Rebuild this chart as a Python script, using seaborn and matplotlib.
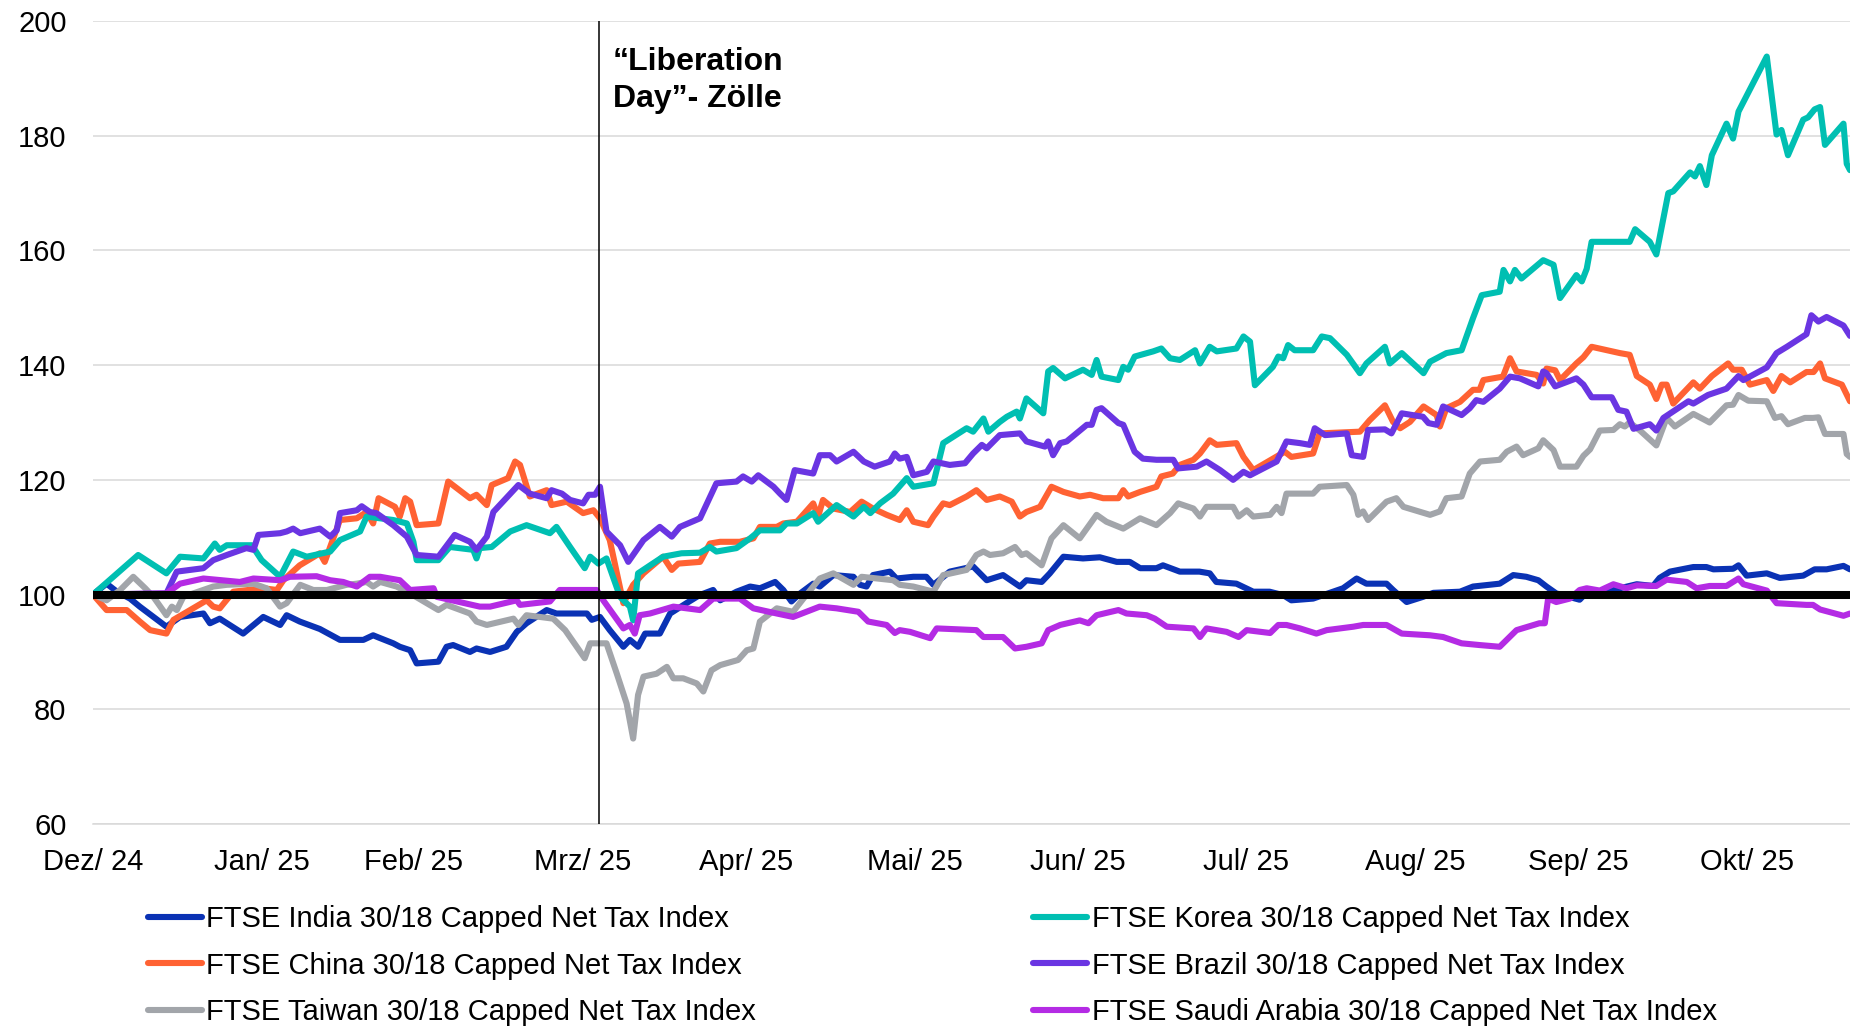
import matplotlib
matplotlib.use("Agg")
import matplotlib.pyplot as plt
import numpy as np
import pandas as pd
import seaborn as sns

# (days since 31.12.2024, index value), 31.12.2024 = 100
india = [(0, 100), (2.5, 101.9), (4.4, 100.5), (6.8, 99.3), (8.6, 97.9), (13.5, 94.4), (16, 96.1), (20.3, 96.7),
         (21.5, 95), (23.3, 95.8), (27.6, 93.2), (29.5, 94.7), (31.3, 96.1), (34.4, 94.7), (35.6, 96.4), (38, 95.3),
         (41.7, 94), (45.4, 92.1), (49.7, 92.1), (51.5, 92.9), (52.8, 92.4), (55.2, 91.5), (56.4, 90.9), (58.3, 90.3),
         (59.5, 88), (63.5, 88.3), (65, 90.9), (66.2, 91.2), (69.3, 90), (70.5, 90.6), (73, 90), (76, 90.9),
         (77.9, 93.5), (79.7, 95), (83.4, 97.3), (85.2, 96.7), (90.8, 96.7), (91.7, 95.6), (93.2, 96.1), (95, 93.8),
         (97.5, 90.9), (98.7, 92.1), (100.2, 90.9), (101.5, 93.2), (104.2, 93.2), (106.1, 96.7), (109.1, 98.5),
         (111.5, 99.9), (114, 100.8), (115.3, 99), (118.3, 100.5), (120.8, 101.4), (122.6, 101.1), (125.4, 102.2),
         (126.9, 100.8), (128.4, 98.8), (130, 100.2), (132.4, 101.9), (133.6, 101.4), (136.1, 103.4), (139.8, 103.1),
         (141, 101.7), (142.2, 101.4), (143.4, 103.4), (146.5, 104), (147.7, 102.8), (150.8, 103.1), (153.2, 103.1),
         (154.5, 101.7), (157.5, 104), (161.8, 104.9), (164.3, 102.5), (167.3, 103.4), (170.4, 101.4), (171.6, 102.5),
         (174.4, 102.2), (175.9, 103.7), (178.4, 106.6), (182, 106.3), (185.1, 106.5), (188.2, 105.7), (190.6, 105.7),
         (192.5, 104.6), (195.5, 104.6), (196.7, 105.1), (199.8, 104), (203.4, 104), (205.3, 103.7), (206.5, 102.2),
         (210.2, 101.9), (213.3, 100.5), (216.3, 100.5), (218.8, 99.9), (220.3, 99), (224.3, 99.3), (229.8, 101.1),
         (232.3, 102.8), (234.1, 101.9), (237.8, 101.9), (239, 100.8), (241.5, 98.7), (244.5, 99.6), (246.4, 100.3),
         (251.3, 100.5), (253.7, 101.4), (258.6, 101.9), (261.1, 103.4), (263.5, 103.1), (265.7, 102.5),
         (267.2, 101.4), (269, 100.2), (273.3, 99.1), (274.6, 100.4), (278.9, 100.7), (283.8, 101.8), (286.8, 101.5),
         (288, 102.9), (289.9, 104), (294.2, 104.8), (296.6, 104.8), (297.9, 104.4), (301.5, 104.5), (302.5, 105.1),
         (304, 103.3), (307.7, 103.7), (310.1, 102.9), (314.4, 103.3), (316.5, 104.4), (318.7, 104.4), (321.8, 105),
         (323, 104.4)]

korea = [(0, 100), (8.3, 106.9), (13.5, 103.7), (16, 106.6), (20.3, 106.3), (22.4, 108.9), (23.3, 107.8),
         (24.6, 108.6), (29.2, 108.6), (31, 106), (34.4, 103.1), (36.8, 107.5), (39.3, 106.6), (43.6, 107.5),
         (45.4, 109.5), (49.1, 111), (50.3, 113.6), (55.2, 113), (57.7, 112.4), (58.9, 109.2), (59.5, 106),
         (63.5, 106), (65.6, 108.3), (69.9, 107.8), (70.5, 106.3), (71.1, 108.1), (73.3, 108.3), (76.7, 111),
         (79.7, 112.1), (84, 110.7), (85.2, 111.8), (87.7, 108.3), (90.4, 104.6), (91.4, 106.6), (92.9, 105.4),
         (94.4, 106.3), (96.9, 99.6), (98.7, 97.9), (99.3, 95.5), (100.2, 103.7), (104.8, 106.6), (108.2, 107.2),
         (111.6, 107.3), (113.4, 108.3), (114.6, 107.5), (118.3, 108.1), (120.8, 109.8), (122.6, 111.2),
         (126.3, 111.2), (127.5, 112.4), (129.4, 112.4), (132.4, 114.2), (133.3, 112.7), (136.7, 115.6),
         (139.8, 113.6), (141.7, 115.3), (142.9, 114.2), (144.7, 115.9), (147.1, 117.6), (149.6, 120.3),
         (150.8, 118.8), (154.5, 119.4), (156.3, 126.4), (160.6, 129), (161.8, 128.4), (163.7, 130.7), (164.6, 128.4),
         (166.7, 130.1), (168, 131), (169.8, 131.9), (170.4, 130.7), (171.6, 134.2), (174.7, 131.6), (175.6, 138.9),
         (176.5, 139.5), (178.7, 137.7), (182, 139.2), (183.6, 138.3), (184.5, 140.9), (185.4, 138), (188.5, 137.4),
         (189.4, 139.7), (190.3, 139.2), (191.5, 141.5), (194.9, 142.4), (196.4, 142.9), (198, 141.2), (199.8, 140.9),
         (202.6, 142.6), (203.5, 140.3), (205.3, 143.2), (206.6, 142.4), (210.2, 142.9), (211.5, 145), (212.7, 144.1),
         (213.6, 136.5), (216.9, 139.7), (217.9, 141.5), (218.8, 141.2), (219.7, 143.5), (220.9, 142.6),
         (224.3, 142.6), (225.9, 145), (227.4, 144.7), (230.5, 141.8), (232.9, 138.6), (234.1, 140.3),
         (237.5, 143.2), (238.4, 140.3), (240.6, 142.1), (244.6, 138.6), (245.8, 140.6), (248.8, 142.1),
         (251.6, 142.6), (252.5, 145), (253.7, 148.2), (255.3, 152.2), (258.6, 152.8), (259.3, 156.6), (260.5, 154.6),
         (261.4, 156.6), (262.6, 155.1), (266.6, 158.3), (268.5, 157.5), (269.7, 151.7), (272.7, 155.7),
         (273.7, 154.6), (274.6, 156.8), (275.5, 161.5), (282.5, 161.5), (283.5, 163.7), (286.2, 161.5),
         (287.4, 159.3), (289.6, 170), (290.5, 170.3), (293.6, 173.6), (294.5, 172.9), (295.4, 174.7), (296.6, 171.4),
         (297.6, 176.6), (300.3, 182.1), (301.5, 179.5), (302.5, 184.2), (307.7, 193.8), (309.5, 180.2), (310.4, 181),
         (311.6, 176.6), (314.4, 182.8), (315.3, 183.2), (316.5, 184.6), (317.5, 185), (318.4, 178.4), (321.8, 182.1),
         (322.4, 175.1), (323, 174)]

china = [(0, 100), (2.5, 97.3), (6.2, 97.3), (8.6, 95.3), (10.5, 93.8), (13.5, 93.2), (14.8, 95.6), (20.9, 99),
         (22.1, 97.9), (23.3, 97.6), (25.8, 100.5), (31.3, 101.1), (33.8, 100.8), (35, 102.5), (38, 105.1),
         (41.7, 107.2), (42.6, 105.7), (43.6, 108.3), (45.4, 113), (48.5, 113.3), (50.3, 114.4), (51.5, 112.4),
         (52.5, 116.8), (55.5, 115.3), (56.4, 113.6), (57.4, 116.8), (58.3, 116.2), (59.5, 112.1), (63.5, 112.4),
         (65.3, 119.7), (69.3, 116.8), (70.5, 117.4), (72.4, 115.6), (73.3, 119.1), (76.3, 120.3), (77.6, 123.2),
         (78.5, 122.6), (80.3, 117.1), (83.4, 118.2), (84.3, 115.6), (87.1, 116.2), (90.1, 114.2), (92, 114.7),
         (93.2, 113.3), (95, 109.5), (97.5, 98.5), (99.3, 101.7), (101.2, 103.7), (104.8, 106.6), (106.4, 104.3),
         (107.6, 105.4), (111.6, 105.7), (113.4, 108.9), (115.3, 109.2), (118.9, 109.2), (121.4, 109.8),
         (122.6, 111.8), (125.7, 111.8), (126.9, 112.4), (129.4, 112.7), (132.4, 115.9), (133.3, 113.6),
         (134.2, 116.5), (136.1, 115), (139.2, 114.4), (141.3, 116.2), (143.4, 115), (145.9, 113.9), (148.3, 113),
         (149.6, 114.7), (150.8, 112.7), (153.5, 112.1), (154.5, 113.6), (156.3, 115.9), (157.5, 115.6),
         (160.6, 117.1), (162.4, 118.2), (164.3, 116.5), (166.7, 117.1), (168.9, 116.2), (170.4, 113.6),
         (171.6, 114.4), (174.1, 115.3), (176.2, 118.8), (178.4, 117.9), (181.4, 117.1), (183.3, 117.4),
         (185.7, 116.8), (188.5, 116.8), (189.4, 118.2), (190.3, 117.1), (192.5, 117.9), (195.5, 118.8),
         (196.4, 120.6), (198.5, 121.1), (199.8, 122.6), (202.3, 123.5), (203.5, 124.6), (205.3, 126.9),
         (206.6, 126.1), (210.2, 126.4), (211.5, 124), (213.3, 121.7), (216.9, 123.7), (219.1, 124.9), (220.3, 124),
         (224.3, 124.6), (225.5, 128.1), (232.9, 128.4), (234.7, 130.4), (237.5, 133), (239, 130.1), (240.3, 129),
         (242.1, 130.1), (244.6, 132.8), (247, 131.3), (247.6, 129.3), (248.8, 132.5), (251.3, 133.6),
         (253.7, 135.7), (254.9, 135.7), (255.6, 137.4), (259.2, 138), (260.5, 141.2), (261.7, 138.9),
         (265.4, 138.3), (266.6, 136.8), (267.2, 139.4), (268.8, 139.1), (269.7, 137.4), (272.7, 140.3),
         (274, 141.4), (275.5, 143.2), (280.7, 142.1), (282.5, 141.8), (283.8, 138.1), (286.2, 136.6),
         (287.4, 134.1), (288.4, 136.6), (289.3, 136.6), (290.5, 133.3), (294.2, 137), (295.4, 135.9),
         (297.6, 138.1), (300.6, 140.3), (301.5, 139.2), (303.1, 139.2), (304.6, 136.6), (307.7, 137.4),
         (308.9, 135.5), (310.4, 138.1), (312, 137), (315, 138.8), (316.3, 138.8), (317.5, 140.3), (318.4, 137.7),
         (321.5, 136.6), (323, 133.7)]

brazil = [(0, 100), (13.5, 100.2), (15.4, 104), (17.8, 104.3), (20.3, 104.6), (22.1, 106), (24.6, 106.9),
          (28.2, 108.1), (29.5, 107.8), (30.4, 110.4), (34.4, 110.7), (35.6, 111), (36.8, 111.5), (38.1, 110.7),
          (41.7, 111.5), (43.6, 110.1), (44.8, 111.2), (45.4, 114.2), (48.5, 114.7), (49.4, 115.4), (50.9, 114.4),
          (52.1, 114.2), (55.2, 112.1), (57.7, 110.1), (59.5, 106.9), (63.5, 106.6), (66.5, 110.4), (69.3, 109.2),
          (70.5, 107.8), (72.4, 110.1), (73.6, 114.4), (78.2, 119.1), (80.3, 117.6), (83.4, 116.8), (84.3, 118.2),
          (86.2, 117.6), (87.7, 116.5), (90.1, 115.9), (91.1, 117.4), (92.3, 117.4), (93.2, 118.8), (94.4, 111),
          (96.9, 108.6), (98.4, 105.7), (101.2, 109.5), (104.2, 111.8), (106.4, 110.1), (107.9, 111.8),
          (111.6, 113.3), (114.6, 119.4), (118.3, 119.7), (119.5, 120.6), (121.1, 119.7), (122.3, 120.8),
          (125.1, 118.8), (126.3, 117.6), (127.5, 116.5), (129, 121.7), (132.4, 121.1), (133.6, 124.3),
          (135.5, 124.3), (136.7, 123.2), (139.8, 124.9), (141.7, 123.2), (143.7, 122.3), (146.5, 123.2),
          (147.4, 124.6), (148.3, 123.7), (149.6, 124), (150.8, 120.8), (153.3, 121.4), (154.5, 123.2),
          (157.5, 122.6), (160.3, 122.9), (161.8, 124.6), (163.4, 126.1), (164.3, 125.5), (166.7, 127.8),
          (170.4, 128.1), (171.6, 126.7), (175, 125.8), (175.6, 126.7), (176.5, 124.3), (177.8, 126.4),
          (179, 126.7), (182.7, 129.6), (183.6, 129.6), (184.5, 132.2), (185.4, 132.5), (188.5, 129.9),
          (189.4, 129.6), (191.5, 124.9), (193, 123.7), (195.5, 123.5), (198.6, 123.5), (199.5, 122),
          (202.9, 122.3), (204.7, 123.2), (207.2, 121.7), (209.6, 120), (211.5, 121.4), (212.7, 120.8),
          (217.6, 123.2), (219.4, 126.7), (221.9, 126.4), (223.7, 126.1), (224.6, 129), (226.5, 127.8),
          (230.5, 128.1), (231.4, 124.3), (233.5, 124), (234.4, 128.7), (237.5, 128.8), (238.7, 128.1),
          (240.6, 131.6), (244.5, 131), (245.5, 129.9), (247, 129.6), (248.2, 132.8), (251.6, 131.3),
          (253.1, 132.5), (254.3, 133.9), (255.6, 133.6), (258.6, 135.9), (260.5, 138), (262.3, 137.7),
          (265.7, 136.3), (266.6, 138.9), (267.2, 138.6), (268.8, 136.3), (272.7, 137.7), (274, 136.6),
          (275.5, 134.4), (279.2, 134.4), (280.4, 132.2), (281.9, 131.9), (283.2, 128.9), (286.2, 129.7),
          (287.4, 128.6), (288.7, 130.8), (293.3, 133.7), (294.2, 133.3), (296.9, 134.8), (300.3, 135.9),
          (302.5, 138.1), (303.4, 137.4), (307.7, 139.6), (309.5, 142.1), (311.4, 143.2), (315, 145.4),
          (315.9, 148.7), (317.2, 147.6), (318.7, 148.4), (321.8, 146.9), (323, 145.1)]

taiwan = [(0, 100), (2.5, 99), (5, 100.8), (7.4, 103.1), (9.6, 101.1), (11.1, 99.6), (13.5, 96.4), (14.5, 97.9),
          (15.4, 97.3), (16.6, 99.6), (22.1, 101.4), (24.6, 101.7), (29.5, 101.9), (31.9, 101.1), (34.4, 97.9),
          (35.6, 98.5), (38.1, 101.7), (40.5, 100.8), (43, 100.8), (46.6, 101.7), (48.5, 101.9), (50.3, 102.2),
          (51.5, 101.4), (52.8, 102.2), (55.8, 101.4), (58.3, 100.2), (63.5, 97.3), (65, 98.2), (69.3, 96.7),
          (70.5, 95.3), (72.4, 94.7), (77.3, 95.8), (78.2, 94.7), (79.7, 96.4), (84.6, 95.8), (86.8, 93.8),
          (90.4, 88.9), (91.4, 91.5), (94.4, 91.5), (96.3, 86.2), (98.1, 81), (99.3, 74.9), (100.2, 82.5),
          (101.2, 85.7), (103.6, 86.2), (105.5, 87.4), (106.7, 85.4), (108.5, 85.4), (111, 84.5), (112.2, 83.1),
          (113.7, 86.8), (115.3, 87.7), (118.6, 88.6), (120.2, 90.3), (121.4, 90.6), (122.6, 95.3), (125.7, 97.6),
          (128.7, 97), (130.6, 99.3), (133.6, 102.8), (136.1, 103.7), (139.8, 101.7), (141.3, 103.1),
          (147.1, 102.5), (148.3, 101.7), (150.8, 101.4), (154.5, 100.5), (156.3, 103.4), (160.6, 104.3),
          (162.4, 106.9), (163.7, 107.5), (164.9, 106.9), (167.3, 107.2), (169.5, 108.3), (170.7, 106.9),
          (171.6, 107.2), (174.4, 105.1), (176.2, 109.8), (178.4, 112.1), (181.4, 109.8), (184.5, 113.9),
          (186.3, 112.7), (189.4, 111.5), (192.5, 113.3), (195.5, 112.1), (198, 114.2), (199.5, 115.9),
          (202.3, 115), (203.5, 113.6), (204.7, 115.3), (209.6, 115.3), (210.6, 113.6), (212.1, 114.7),
          (213.3, 113.6), (216.4, 113.9), (217.6, 115.3), (218.5, 114.2), (219.4, 117.6), (224.3, 117.6),
          (225.5, 118.8), (230.5, 119.1), (231.7, 117.4), (232.6, 113.9), (233.5, 114.5), (234.4, 113),
          (237.8, 116.2), (239.6, 116.8), (240.9, 115.3), (245.8, 113.9), (247.6, 114.5), (248.8, 116.8),
          (251.6, 117.1), (253.1, 121.1), (255, 123.2), (258.6, 123.5), (259.9, 124.9), (261.7, 125.8),
          (262.9, 124.3), (265.7, 125.5), (266.6, 126.9), (268.5, 125.2), (269.7, 122.3), (272.7, 122.3),
          (274, 124.2), (275.2, 125.3), (277, 128.6), (279.5, 128.7), (280.7, 129.7), (281.6, 129.3), (282.5, 130),
          (284.4, 128.6), (287.4, 126), (289.3, 130.8), (290.8, 129.3), (294.2, 131.5), (297.2, 130), (300.3, 133),
          (301.5, 133.1), (302.5, 134.8), (304.3, 133.8), (307.7, 133.7), (309.2, 130.8), (310.4, 131.1),
          (311.6, 129.7), (314.7, 130.8), (316.2, 130.8), (317.2, 130.9), (318.4, 128), (321.8, 128),
          (322.4, 124.5), (323, 124)]

saudi = [(0, 100), (13.5, 100.2), (16, 101.9), (20.3, 102.8), (27, 102.2), (29.5, 102.8), (34.4, 102.5),
         (36.2, 103.1), (41.1, 103.2), (43.6, 102.5), (46, 102.2), (48.5, 101.4), (50.9, 103.1), (52.8, 103.1),
         (56.4, 102.5), (58.3, 100.8), (62.6, 101.1), (63.2, 99.6), (71.1, 97.9), (73, 97.9), (77.9, 99),
         (78.5, 98.2), (84, 98.8), (85.8, 100.8), (92.6, 100.8), (93.8, 99), (97.5, 94.1), (98.7, 94.7),
         (99.6, 93.2), (100.5, 96.4), (102.4, 96.7), (106.7, 97.9), (111.6, 97.3), (114, 99.3), (118.9, 99.3),
         (121.4, 97.6), (125.7, 96.7), (128.7, 96.1), (133.6, 97.9), (136.7, 97.6), (140.7, 97), (142.5, 95.3),
         (145.9, 94.7), (147.4, 93.3), (148.3, 93.8), (150.2, 93.5), (153.9, 92.4), (155.1, 94.1), (162.4, 93.8),
         (163.7, 92.6), (167.3, 92.6), (169.5, 90.6), (171.6, 90.9), (174.4, 91.5), (175.6, 93.8), (177.8, 94.7),
         (181.4, 95.5), (183, 95), (184.5, 96.4), (188.5, 97.3), (190, 96.7), (193.7, 96.4), (195.2, 95.8),
         (197.4, 94.4), (202.3, 94.1), (203.5, 92.6), (204.7, 94.1), (208.4, 93.5), (210.6, 92.6), (212.1, 93.8),
         (216.4, 93.3), (217.9, 94.7), (219.4, 94.7), (221.9, 94.1), (224.9, 93.2), (226.8, 93.8), (231.7, 94.4),
         (233.5, 94.7), (237.8, 94.7), (240.6, 93.2), (245.8, 92.9), (248.2, 92.6), (251.6, 91.5), (254.9, 91.2),
         (258.6, 90.9), (261.7, 93.8), (265.9, 95), (266.9, 95), (267.5, 99.3), (269, 98.7), (271.5, 99.3),
         (273.3, 100.8), (274.6, 101.1), (277, 100.7), (279.5, 101.8), (281.9, 101.1), (283.8, 101.6),
         (287.4, 101.5), (289.3, 102.6), (293, 102.2), (294.8, 101.1), (297.2, 101.5), (300.3, 101.5),
         (302.5, 102.8), (303.4, 101.8), (307.7, 100.7), (309.5, 98.5), (315, 98.2), (316.2, 98.2), (317.5, 97.4),
         (321.8, 96.3), (323, 96.7)]

names = ["FTSE India 30/18 Capped Net Tax Index",
         "FTSE China 30/18 Capped Net Tax Index",
         "FTSE Taiwan 30/18 Capped Net Tax Index",
         "FTSE Korea 30/18 Capped Net Tax Index",
         "FTSE Brazil 30/18 Capped Net Tax Index",
         "FTSE Saudi Arabia 30/18 Capped Net Tax Index"]
series = [india, china, taiwan, korea, brazil, saudi]
colors = ["#0a32b4", "#ff6233", "#a2a5aa", "#00bfb2", "#6a35e2", "#b42be4"]

start = pd.Timestamp("2024-12-31")
end = pd.Timestamp("2025-11-19")
tick_dates = pd.to_datetime(["2024-12-31", "2025-01-31", "2025-02-28", "2025-03-31", "2025-04-30",
                             "2025-05-31", "2025-06-30", "2025-07-31", "2025-08-31", "2025-09-30",
                             "2025-10-31"])
tick_labels = ["Dez/ 24", "Jan/ 25", "Feb/ 25", "Mrz/ 25", "Apr/ 25", "Mai/ 25", "Jun/ 25",
               "Jul/ 25", "Aug/ 25", "Sep/ 25", "Okt/ 25"]
liberation_day = pd.Timestamp("2025-04-03")

sns.set_style("white")
plt.rcParams["font.family"] = ["Liberation Sans", "DejaVu Sans"]

fig = plt.figure(figsize=(18.5, 10.27), dpi=100)
ax = fig.add_axes([93 / 1850, 1 - 824 / 1027, 1 - 93 / 1850, (824 - 21) / 1027])

grey = "#d9d9d9"
ax.grid(axis="y", color=grey, lw=1.1)
ax.set_axisbelow(True)

handles = []
for name, pts, col in zip(names, series, colors):
    days, vals = zip(*pts)
    x = start + pd.to_timedelta(days, unit="D")
    sns.lineplot(x=x, y=list(vals), color=col, lw=4.4, ax=ax, label=name, legend=False,
                 sort=False, estimator=None)
    handles.append(ax.get_lines()[-1])

ax.axhline(100, color="black", lw=5.8, zorder=5)
ax.axvline(liberation_day, color="black", lw=1.1, zorder=6)
ax.annotate("\u201cLiberation\nDay\u201d- Z\u00f6lle", xy=(liberation_day, 200), xytext=(10, -19),
            textcoords="offset points", ha="left", va="top", fontsize=23, fontweight="bold",
            linespacing=1.3, color="black")

ax.set_xlim(start, end)
ax.set_ylim(60, 200)
ax.set_yticks(np.arange(60, 201, 20))
ax.set_xticks(tick_dates)
ax.set_xticklabels(tick_labels)
ax.tick_params(axis="y", length=0, pad=19, labelsize=21, labelcolor="black")
ax.tick_params(axis="x", length=5.8, width=1.1, color=grey, pad=11.5, labelsize=21, labelcolor="black")
for s in ["left", "top", "right"]:
    ax.spines[s].set_visible(False)
ax.spines["bottom"].set_color(grey)
ax.spines["bottom"].set_linewidth(1.1)
ax.set_xlabel("")
ax.set_ylabel("")

fig.legend(handles, names, ncol=2, loc="upper left", bbox_to_anchor=(148 / 1850, 1 - 905 / 1027),
           frameon=False, fontsize=21, handlelength=1.85, handletextpad=0.15, columnspacing=9.5,
           labelspacing=0.64, borderpad=0, borderaxespad=0, labelcolor="black")

fig.savefig("out.png", dpi=100)
